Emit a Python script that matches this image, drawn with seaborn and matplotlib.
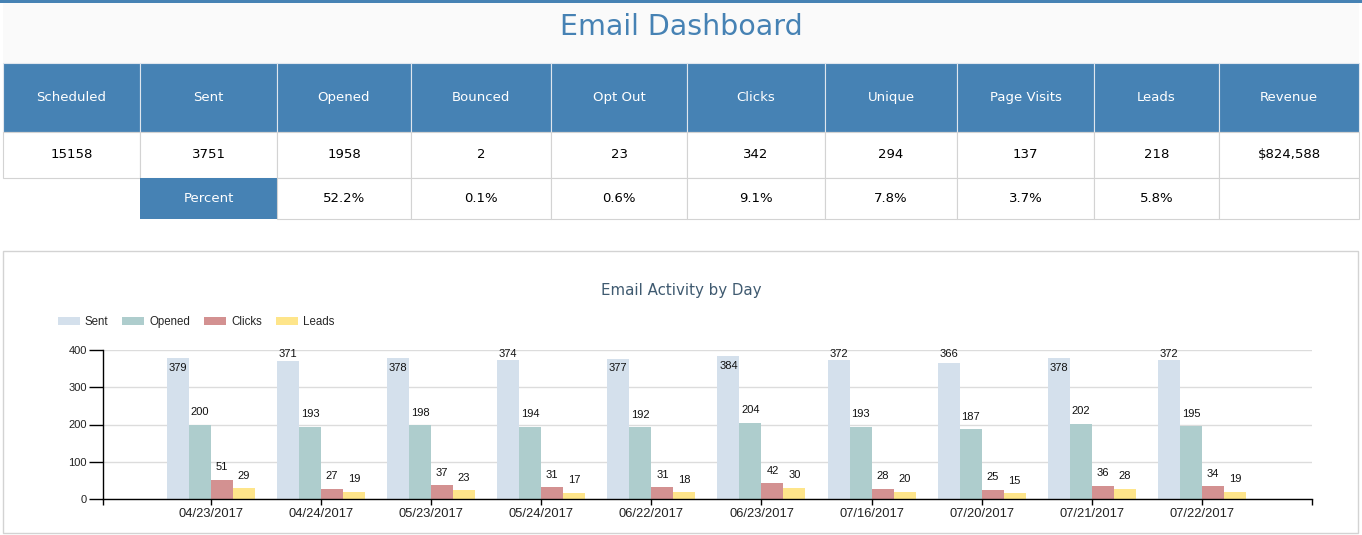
import matplotlib
matplotlib.use("Agg")
import matplotlib.pyplot as plt
import matplotlib.patches as mpatches
import seaborn as sns
import pandas as pd

# === DADOS ===
summary_headers = ["Scheduled", "Sent", "Opened", "Bounced", "Opt Out",
                   "Clicks", "Unique", "Page Visits", "Leads", "Revenue"]
summary_values = ["15158", "3751", "1958", "2", "23", "342", "294", "137", "218", "$824,588"]
percent_values = ["", "Percent", "52.2%", "0.1%", "0.6%", "9.1%", "7.8%", "3.7%", "5.8%", ""]

days = ["04/23/2017", "04/24/2017", "05/23/2017", "05/24/2017", "06/22/2017",
        "06/23/2017", "07/16/2017", "07/20/2017", "07/21/2017", "07/22/2017"]
sent = [379, 371, 378, 374, 377, 384, 372, 366, 378, 372]
opened = [200, 193, 198, 194, 192, 204, 193, 187, 202, 195]
clicks = [51, 27, 37, 31, 31, 42, 28, 25, 36, 34]
leads = [29, 19, 23, 17, 18, 30, 20, 15, 28, 19]

series_names = ["Sent", "Opened", "Clicks", "Leads"]
palette = {"Sent": "#d4e0ec", "Opened": "#aecdcd", "Clicks": "#d39191", "Leads": "#fee58a"}

# === CONFIGURAÇÕES ===
W, H = 1362, 535
BLUE = "#4682b4"
BORDER = "#d3d3d3"
col_edges = [3, 140, 277, 411, 551, 687, 825, 957, 1094, 1219, 1359]
row_edges = [63, 132, 178, 219]

sns.set_theme(style="white")
plt.rcParams["font.family"] = ["DejaVu Sans"]

fig = plt.figure(figsize=(W / 100, H / 100), dpi=100)
fig.patch.set_facecolor("white")

# camada de fundo em pixels
bg = fig.add_axes([0, 0, 1, 1])
bg.set_xlim(0, W)
bg.set_ylim(H, 0)
bg.axis("off")

bg.add_patch(mpatches.Rectangle((0, 0), W, 3, facecolor=BLUE, edgecolor="none"))
bg.add_patch(mpatches.Rectangle((3, 3), 1356, 60, facecolor="#fafafa", edgecolor="none"))
bg.text(681, 27, "Email Dashboard", ha="center", va="center", fontsize=20.5, color=BLUE)

# === TABELA DE RESUMO ===
for i in range(len(summary_headers)):
    x0, x1 = col_edges[i], col_edges[i + 1]
    cx = (x0 + x1) / 2
    # cabeçalho
    bg.add_patch(mpatches.Rectangle((x0, row_edges[0]), x1 - x0, row_edges[1] - row_edges[0],
                                    facecolor=BLUE, edgecolor="#dfe6ee", lw=0.8))
    bg.text(cx, (row_edges[0] + row_edges[1]) / 2, summary_headers[i], ha="center", va="center",
            fontsize=9.5, color="white")
    # valores
    bg.add_patch(mpatches.Rectangle((x0, row_edges[1]), x1 - x0, row_edges[2] - row_edges[1],
                                    facecolor="white", edgecolor=BORDER, lw=0.8))
    bg.text(cx, (row_edges[1] + row_edges[2]) / 2, summary_values[i], ha="center", va="center",
            fontsize=9.5, color="black")
    # percentuais
    if i == 0:
        continue
    face = BLUE if percent_values[i] == "Percent" else "white"
    edge = "none" if face == BLUE else BORDER
    bg.add_patch(mpatches.Rectangle((x0, row_edges[2]), x1 - x0, row_edges[3] - row_edges[2],
                                    facecolor=face, edgecolor=edge, lw=0.8))
    bg.text(cx, (row_edges[2] + row_edges[3]) / 2, percent_values[i], ha="center", va="center",
            fontsize=9.5, color="white" if face == BLUE else "black")

# === PAINEL DO GRÁFICO ===
bg.add_patch(mpatches.Rectangle((3, 251), 1355, 282, facecolor="white", edgecolor=BORDER, lw=1))
bg.text(681, 290, "Email Activity by Day", ha="center", va="center", fontsize=10.8, color="#3f5a70")

df = pd.DataFrame({"day": days, "Sent": sent, "Opened": opened, "Clicks": clicks, "Leads": leads})
df_long = df.melt(id_vars="day", var_name="series", value_name="count")

ax = fig.add_axes([103 / W, (H - 499) / H, 1209 / W, 149 / H])
sns.barplot(data=df_long, x="day", y="count", hue="series", hue_order=series_names,
            palette=palette, saturation=1, width=0.8, errorbar=None, ax=ax, zorder=2,
            linewidth=0, edgecolor="none")

ax.set_ylim(0, 400)
ax.set_xlim(-0.98, 10.0)
ax.set_yticks([0, 100, 200, 300, 400])
ax.set_xlabel("")
ax.set_ylabel("")
ax.grid(axis="y", color="#dcdcdc", lw=1, zorder=0)
ax.set_axisbelow(True)
for s in ["top", "right"]:
    ax.spines[s].set_visible(False)
for s in ["left", "bottom"]:
    ax.spines[s].set_color("black")
    ax.spines[s].set_linewidth(1)
ax.set_xticks([-0.98, 10.0], minor=True)
ax.tick_params(axis="x", which="both", length=4.5, width=1, color="black", pad=2,
               labelsize=9.3, labelcolor="#222222", bottom=True)
ax.tick_params(axis="y", length=10, width=1, color="black", pad=1.5,
               labelsize=8, labelcolor="#222222", left=True)
for lab in ax.get_xticklabels() + ax.get_yticklabels():
    lab.set_fontfamily("Liberation Sans")

# rótulos das barras
for container, vals in zip(ax.containers, [sent, opened, clicks, leads]):
    for bar, v in zip(container, vals):
        xc = bar.get_x() + bar.get_width() / 2
        if v >= 376:
            ax.annotate(str(v), (xc, v), xytext=(0, -3.5), textcoords="offset points",
                        ha="center", va="top", fontsize=8, family="Liberation Sans", color="#111111")
        elif v > 354:
            ax.annotate(str(v), (xc, 400), xytext=(0, 0.5), textcoords="offset points",
                        ha="center", va="top", fontsize=8, family="Liberation Sans", color="#111111")
        else:
            ax.annotate(str(v), (xc, v), xytext=(0, 5.5), textcoords="offset points",
                        ha="center", va="bottom", fontsize=8, family="Liberation Sans", color="#111111")

# legenda
handles, labels = ax.get_legend_handles_labels()
ax.legend(handles, labels, loc="center left", bbox_to_anchor=(52 / W, (H - 322) / H),
          bbox_transform=fig.transFigure, ncol=4, frameon=False, borderpad=0,
          handlelength=1.9, handleheight=0.75, handletextpad=0.45, columnspacing=1.2,
          prop={"family": "Liberation Sans", "size": 8.3})

plt.savefig("out.png", dpi=100)
plt.close()
